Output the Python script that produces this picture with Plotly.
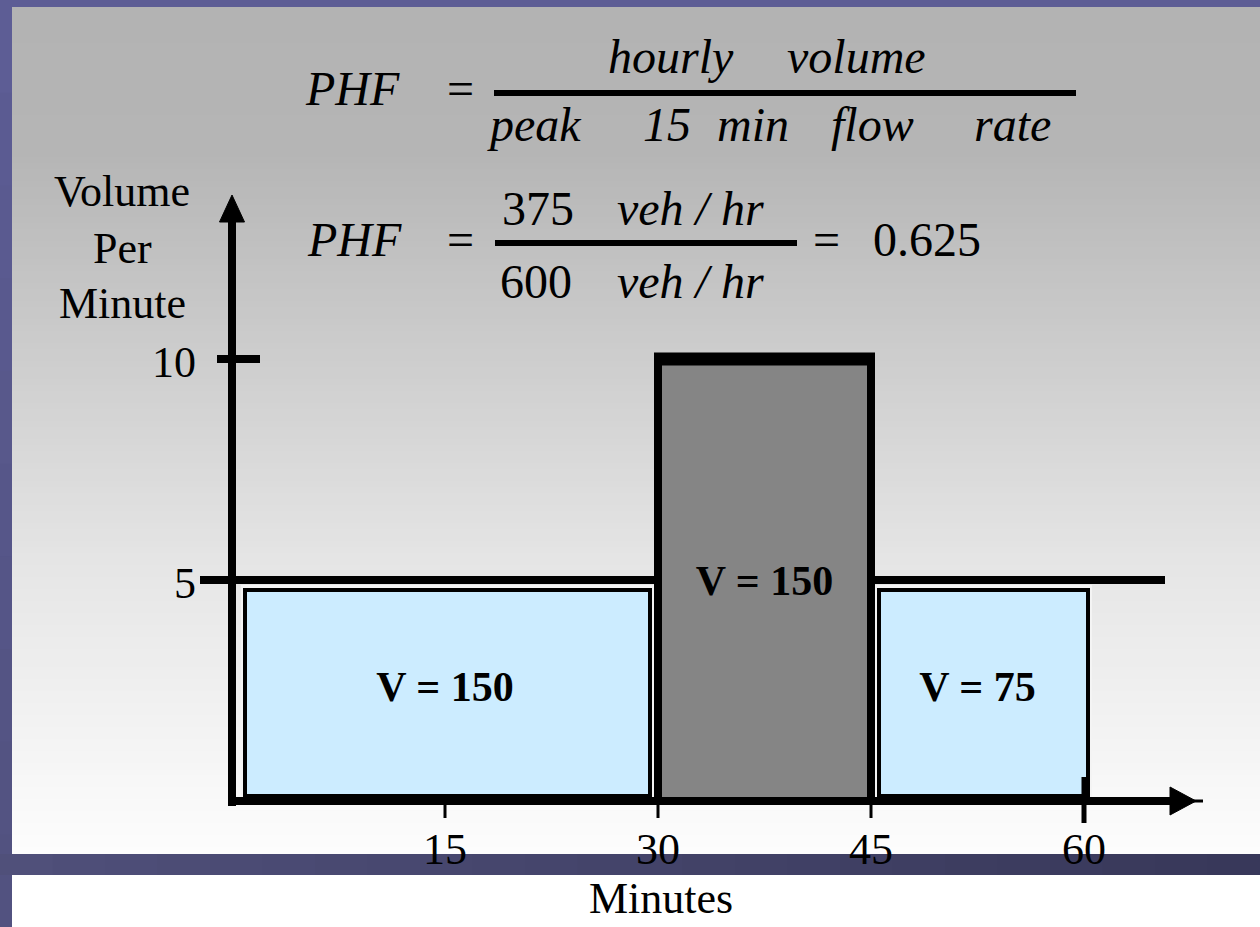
import plotly.graph_objects as go

# ---------------- data ----------------
interval_start = [0, 30, 45]          # minutes
interval_end = [30, 45, 60]           # minutes
flow_rate = [5, 10, 5]                # vehicles per minute
volume_labels = ["V = 150", "V = 150", "V = 75"]
x_ticks = [15, 30, 45, 60]
x_tick_labels = ["15", "30", "45", "60"]
y_ticks = [5, 10]
y_tick_labels = ["5", "10"]
y_title_lines = ["Volume", "Per", "Minute"]
x_title = "Minutes"
hourly_volume = "375"
peak_flow = "600"
phf_value = "0.625"

# ---------------- geometry / style ----------------
W, H = 1260, 927
X0_PX, X_SCALE = 232, 14.2     # pixel of x=0, pixels per minute
Y0_PX, Y_SCALE = 801, 44.2     # pixel of y=0, pixels per veh/min
X_RANGE = [(0 - X0_PX) / X_SCALE, (W - X0_PX) / X_SCALE]
Y_RANGE = [(Y0_PX - H) / Y_SCALE, Y0_PX / Y_SCALE]


def dx(p):
    return p / X_SCALE


def dy(p):
    return p / Y_SCALE


def px(x):
    return x / W


def py(y):
    return 1 - y / H


FONT = "Liberation Serif"
LIGHT = "#CCECFF"
GRAY = "#858585"
BLACK = "#000000"

fig = go.Figure()

# ---------------- background (slide decoration) ----------------
shapes = []


def lerp_grey(y):
    pts = [(7, 179), (150, 181), (560, 229), (854, 253)]
    for (y1, c1), (y2, c2) in zip(pts[:-1], pts[1:]):
        if y <= y2:
            t = (y - y1) / (y2 - y1)
            return int(round(c1 + t * (c2 - c1)))
    return pts[-1][1]


band = 6
y = 7
while y < 854:
    y2 = min(y + band, 854)
    g = lerp_grey((y + y2) / 2)
    shapes.append(dict(type="rect", xref="paper", yref="paper",
                       x0=px(12), x1=1, y0=py(min(y2 + 1, 854)), y1=py(y),
                       fillcolor=f"rgb({g},{g},{g})", line_width=0, layer="below"))
    y = y2

# top & left slide strips
shapes.append(dict(type="rect", xref="paper", yref="paper", x0=0, x1=1,
                   y0=py(7), y1=1, fillcolor="#5d5d95", line_width=0, layer="below"))
nseg = 10
for k in range(nseg):
    t = k / (nseg - 1)
    r = int(93 + t * (82 - 93)); gg = int(93 + t * (82 - 93)); b = int(149 + t * (128 - 149))
    shapes.append(dict(type="rect", xref="paper", yref="paper", x0=0, x1=px(12),
                       y0=py(min(H * (k + 1) / nseg + 2, H)), y1=py(H * k / nseg),
                       fillcolor=f"rgb({r},{gg},{b})", line_width=0, layer="below"))
# bottom dark band
nseg = 24
for k in range(nseg):
    t = k / (nseg - 1)
    r = int(80 + t * (56 - 80)); gg = int(80 + t * (56 - 80)); b = int(122 + t * (90 - 122))
    shapes.append(dict(type="rect", xref="paper", yref="paper",
                       x0=px(W * k / nseg), x1=px(min(W * (k + 1) / nseg + 2, W)),
                       y0=py(875), y1=py(854),
                       fillcolor=f"rgb({r},{gg},{b})", line_width=0, layer="below"))

# fraction bars of the formulas
shapes.append(dict(type="line", xref="paper", yref="paper", x0=px(494), x1=px(1076),
                   y0=py(93), y1=py(93), line=dict(color=BLACK, width=6)))
shapes.append(dict(type="line", xref="paper", yref="paper", x0=px(495), x1=px(797),
                   y0=py(243), y1=py(243), line=dict(color=BLACK, width=6)))

# ---------------- bars ----------------
peak_idx = flow_rate.index(max(flow_rate))
base_rate = min(flow_rate)
n = len(flow_rate)

# white halo + light-blue boxes for the non-peak intervals
for i in range(n):
    if i == peak_idx:
        continue
    s, e, r = interval_start[i], interval_end[i], flow_rate[i]
    lp = dx(13) if s == 0 else dx(8)
    rp = dx(8) if (i + 1 < n and i + 1 == peak_idx) else -dx(4)
    left, right = s + lp, e - rp
    top, bottom = r - dy(10), dy(5)
    fig.add_trace(go.Bar(x=[(left + right) / 2], y=[top + dy(5)], base=[0],
                         width=[right - left + dx(8)],
                         marker=dict(color="#f4f4f4", line=dict(width=0)),
                         hoverinfo="skip"))
    fig.add_trace(go.Bar(x=[(left + right) / 2], y=[top - bottom], base=[bottom],
                         width=[right - left],
                         marker=dict(color=LIGHT, line=dict(color=BLACK, width=4)),
                         hoverinfo="skip"))

# peak interval bar
ps, pe, pr = interval_start[peak_idx], interval_end[peak_idx], flow_rate[peak_idx]
fig.add_trace(go.Bar(x=[(ps + pe) / 2], y=[pr], base=[0], width=[pe - ps],
                     marker=dict(color=GRAY, line=dict(color=BLACK, width=8)),
                     hoverinfo="skip"))

# ---------------- flow-rate step line ----------------
sx = [interval_start[0] - dx(32)]
sy = [flow_rate[0]]
for s, e, r in zip(interval_start, interval_end, flow_rate):
    if r == pr:
        sx += [None, e]
        sy += [None, base_rate]
        continue
    sx += [s, e]
    sy += [r, r]
sx += [interval_end[-1] + dx(81)]
sy += [flow_rate[-1]]
fig.add_trace(go.Scatter(x=sx, y=sy, mode="lines", line=dict(color=BLACK, width=8),
                         hoverinfo="skip", connectgaps=False))
fig.add_trace(go.Scatter(x=[ps - dx(4), pe + dx(4)], y=[pr, pr], mode="lines",
                         line=dict(color=BLACK, width=13), hoverinfo="skip"))

# ---------------- axes with arrows ----------------
y_tip = dy(Y0_PX - 195)
fig.add_trace(go.Scatter(x=[0, 0], y=[-dy(5), y_tip - dy(20)], mode="lines",
                         line=dict(color=BLACK, width=8), hoverinfo="skip"))
fig.add_trace(go.Scatter(x=[-dx(12.5), 0, dx(12.5), -dx(12.5)],
                         y=[y_tip - dy(27), y_tip, y_tip - dy(27), y_tip - dy(27)],
                         mode="lines", fill="toself", fillcolor=BLACK,
                         line=dict(color=BLACK, width=1), hoverinfo="skip"))
x_tip = dx(1196 - X0_PX)
fig.add_trace(go.Scatter(x=[-dx(4), x_tip - dx(20)], y=[0, 0], mode="lines",
                         line=dict(color=BLACK, width=8), hoverinfo="skip"))
fig.add_trace(go.Scatter(x=[x_tip - dx(26), x_tip, x_tip - dx(26), x_tip - dx(26)],
                         y=[dy(14), 0, -dy(14), dy(14)],
                         mode="lines", fill="toself", fillcolor=BLACK,
                         line=dict(color=BLACK, width=1), hoverinfo="skip"))
fig.add_trace(go.Scatter(x=[x_tip - dx(5), x_tip + dx(7)], y=[0, 0], mode="lines",
                         line=dict(color=BLACK, width=3), hoverinfo="skip"))

# tick marks
tx, ty, lx, ly = [], [], [], []
for t in x_ticks:
    if t == max(x_ticks):
        lx += [t, t, None]
        ly += [dy(24), -dy(22), None]
    else:
        tx += [t, t, None]
        ty += [0, -dy(17), None]
fig.add_trace(go.Scatter(x=tx, y=ty, mode="lines", line=dict(color=BLACK, width=3),
                         hoverinfo="skip"))
fig.add_trace(go.Scatter(x=lx, y=ly, mode="lines", line=dict(color=BLACK, width=5),
                         hoverinfo="skip"))
yx, yy = [], []
for t in y_ticks:
    yx += [-dx(15), dx(28), None]
    yy += [t, t, None]
fig.add_trace(go.Scatter(x=yx, y=yy, mode="lines", line=dict(color=BLACK, width=8),
                         hoverinfo="skip"))

# ---------------- text ----------------
fig.add_trace(go.Scatter(x=x_ticks, y=[-dy(52)] * len(x_ticks), mode="text",
                         text=x_tick_labels, textposition="middle center",
                         textfont=dict(family=FONT, size=44, color=BLACK),
                         hoverinfo="skip"))
fig.add_trace(go.Scatter(x=[-dx(36)] * len(y_ticks), y=[t - dy(7) for t in y_ticks],
                         mode="text",
                         text=y_tick_labels, textposition="middle left",
                         textfont=dict(family=FONT, size=44, color=BLACK),
                         hoverinfo="skip"))
mids = [(s + e) / 2 for s, e in zip(interval_start, interval_end)]
label_y = [base_rate - dy(4) if r == pr else base_rate / 2 for r in flow_rate]
fig.add_trace(go.Scatter(x=mids, y=label_y, mode="text",
                         text=[f"<b>{t}</b>" for t in volume_labels],
                         textposition="middle center",
                         textfont=dict(family=FONT, size=42, color=BLACK),
                         hoverinfo="skip"))

ann = []


def add_text(txt, x, y, size=48, anchor="center"):
    ann.append(dict(text=txt, x=px(x), y=py(y), xref="paper", yref="paper",
                    xanchor=anchor, yanchor="middle", showarrow=False,
                    font=dict(family=FONT, size=size, color=BLACK)))


# y-axis title
for line, yc in zip(y_title_lines, [192, 248, 303]):
    add_text(line, 122, yc, size=44)
# x-axis title
add_text(x_title, 661, 898, size=44)

# formula 1
add_text("<i>PHF</i>", 352, 88)
add_text("=", 460, 88)
add_text("<i>hourly</i>", 671, 56)
add_text("<i>volume</i>", 856, 56)
for w, xc in zip(["peak", "15", "min", "flow", "rate"], [534, 667, 753, 872, 1012]):
    add_text(f"<i>{w}</i>", xc, 124)

# formula 2
add_text("<i>PHF</i>", 354, 239)
add_text("=", 460, 239)
add_text(hourly_volume, 538, 209)
add_text("<i>veh\u00a0/\u00a0hr</i>", 690, 209)
add_text(peak_flow, 536, 281)
add_text("<i>veh\u00a0/\u00a0hr</i>", 690, 281)
add_text("=", 826, 239)
add_text(phf_value, 927, 239)

fig.update_layout(
    width=W, height=H,
    margin=dict(l=0, r=0, t=0, b=0, pad=0),
    paper_bgcolor="#ffffff",
    plot_bgcolor="rgba(0,0,0,0)",
    barmode="overlay",
    bargap=0,
    showlegend=False,
    xaxis=dict(range=X_RANGE, visible=False, fixedrange=True),
    yaxis=dict(range=Y_RANGE, visible=False, fixedrange=True),
    shapes=shapes,
    annotations=ann,
)

fig.write_html("out.html",
               config={"displayModeBar": False},
               post_script="document.body.style.margin='0';document.body.style.overflow='hidden';")
